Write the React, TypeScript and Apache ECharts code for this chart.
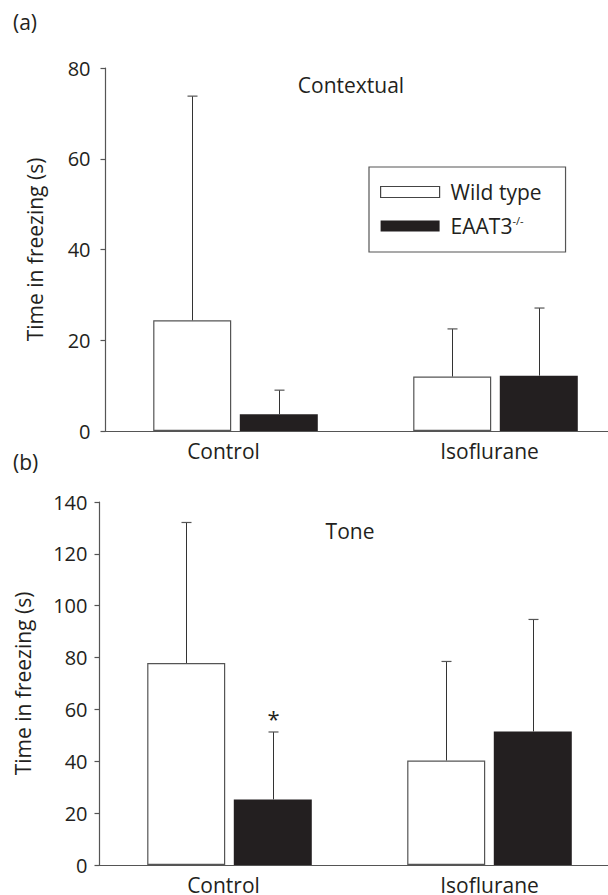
import React, { useEffect, useRef } from "react";
import * as echarts from "echarts";

const categories = ["Control", "Isoflurane"];
const seriesNames = ["Wild type", "EAAT3"];

// Panel (a) Contextual
const ctxWildMean = [24.4, 12.0];
const ctxWildUpper = [73.8, 22.5];
const ctxKoMean = [3.7, 12.2];
const ctxKoUpper = [9.0, 27.1];

// Panel (b) Tone
const toneWildMean = [77.9, 40.3];
const toneWildUpper = [132.1, 78.5];
const toneKoMean = [25.3, 51.5];
const toneKoUpper = [51.3, 94.7];
const toneKoSig = [true, false];

const ctxTicks = { min: 0, max: 80, interval: 20 };
const toneTicks = { min: 0, max: 140, interval: 20 };

const FONT = "'Open Sans', 'Noto Sans', sans-serif";
const INK = "#231f20";
const AXIS = "#555";
const BAR_W = 78;
const BAR_GAP_PCT = 11;
const CANVAS_W = 640;

function errData(wm: number[], wu: number[], km: number[], ku: number[], sig?: boolean[]) {
  const out: any[] = [];
  categories.forEach((_, i) => {
    out.push([i, wm[i], wu[i], 0, 0]);
    out.push([i, km[i], ku[i], 1, sig && sig[i] ? 1 : 0]);
  });
  return out;
}

function renderErr(params: any, api: any) {
  const cat = api.value(0);
  const mean = api.value(1);
  const up = api.value(2);
  const grp = api.value(3);
  const sig = api.value(4);
  const off = ((BAR_W + (BAR_W * BAR_GAP_PCT) / 100) / 2) * (grp === 0 ? -1 : 1);
  const p0 = api.coord([cat, mean]);
  const p1 = api.coord([cat, up]);
  const x = Math.round(p0[0] + off) + 0.5;
  const children: any[] = [
    { type: "line", shape: { x1: x, y1: p0[1], x2: x, y2: p1[1] }, style: { stroke: "#333", lineWidth: 1 } },
    { type: "line", shape: { x1: x - 5, y1: p1[1], x2: x + 5, y2: p1[1] }, style: { stroke: "#555", lineWidth: 1.2 } },
  ];
  if (sig) {
    children.push({
      type: "text",
      x: x,
      y: p1[1] - 14,
      style: { text: "*", font: `22px ${FONT}`, fill: INK, align: "center", verticalAlign: "middle" },
    });
  }
  return { type: "group", children };
}

function labelFmt(v: string) {
  return v === "Control" ? "{c|Control}" : "{i|Isoflurane}";
}

export default function App() {
  const ref = useRef<HTMLDivElement>(null);
  useEffect(() => {
    if (!ref.current) return;
    document.body.style.margin = "0";
    const chart = echarts.init(ref.current, undefined, { renderer: "svg" });
    const axisLabelBase = { color: INK, fontFamily: FONT, fontSize: 20 };
    const xAxisCommon = (gi: number, cShift: number, iShift: number) => ({
      type: "category",
      gridIndex: gi,
      data: categories,
      axisLine: { lineStyle: { color: AXIS, width: 1.2 } },
      axisTick: { show: false },
      axisLabel: {
        ...axisLabelBase,
        fontSize: 21,
        margin: 9,
        formatter: labelFmt,
        rich: {
          c: { color: INK, fontFamily: FONT, fontSize: 21, padding: [0, cShift, 0, 0] },
          i: { color: INK, fontFamily: FONT, fontSize: 21, padding: [0, iShift, 0, 0] },
        },
      },
    });
    const yAxisCommon = (gi: number, t: any, gap: number, margin: number) => ({
      type: "value",
      gridIndex: gi,
      ...t,
      name: "Time in freezing (s)",
      nameLocation: "middle",
      nameGap: gap,
      nameTextStyle: { color: INK, fontFamily: FONT, fontSize: 21 },
      axisLine: { show: true, lineStyle: { color: AXIS, width: 1.2 } },
      axisTick: { show: true, length: 5, lineStyle: { color: AXIS, width: 1.2 } },
      axisLabel: { ...axisLabelBase, margin },
      splitLine: { show: false },
    });
    const wildStyle = { color: "#ffffff", borderColor: "#555", borderWidth: 1.2 };
    const koStyle = { color: INK, borderColor: INK, borderWidth: 0 };
    chart.setOption({
      animation: false,
      backgroundColor: "#ffffff",
      textStyle: { fontFamily: FONT },
      grid: [
        { left: 105.5, top: 68, height: 363, width: 520 },
        { left: 99.5, top: 502, height: 363, width: 520 },
      ],
      xAxis: [xAxisCommon(0, 24, 12), xAxisCommon(1, 12, 0)],
      yAxis: [yAxisCommon(0, ctxTicks, 60, 15), yAxisCommon(1, toneTicks, 66, 12)],
      legend: {
        left: 369,
        top: 167,
        orient: "vertical",
        borderColor: "#555",
        borderWidth: 1.2,
        padding: [14, 24, 15, 11],
        itemGap: 12,
        itemWidth: 59,
        itemHeight: 11,
        icon: "rect",
        selectedMode: false,
        textStyle: {
          color: INK,
          fontFamily: FONT,
          fontSize: 21,
          lineHeight: 22,
          padding: [0, 0, 0, 6],
          rich: {
            sup: { color: INK, fontFamily: FONT, fontSize: 11, lineHeight: 11, verticalAlign: "top" },
          },
        },
        formatter: (n: string) => (n === "EAAT3" ? "EAAT3{sup|-/-}" : n),
        data: [
          { name: seriesNames[0], itemStyle: { color: "#fff", borderColor: "#444", borderWidth: 1.2 } },
          { name: seriesNames[1], itemStyle: { color: INK, borderWidth: 0 } },
        ],
      },
      graphic: [
        { type: "text", x: 13, y: 22, style: { text: "(a)", font: `21px ${FONT}`, fill: INK, verticalAlign: "middle" } },
        { type: "text", x: 13, y: 462, style: { text: "(b)", font: `21px ${FONT}`, fill: INK, verticalAlign: "middle" } },
        { type: "text", x: 351, y: 85, style: { text: "Contextual", font: `21px ${FONT}`, fill: INK, align: "center", verticalAlign: "middle" } },
        { type: "text", x: 350, y: 531, style: { text: "Tone", font: `21px ${FONT}`, fill: INK, align: "center", verticalAlign: "middle" } },
      ],
      series: [
        { type: "bar", name: seriesNames[0], xAxisIndex: 0, yAxisIndex: 0, data: ctxWildMean, barWidth: BAR_W, barGap: BAR_GAP_PCT + "%", itemStyle: wildStyle },
        { type: "bar", name: seriesNames[1], xAxisIndex: 0, yAxisIndex: 0, data: ctxKoMean, barWidth: BAR_W, barGap: BAR_GAP_PCT + "%", itemStyle: koStyle },
        { type: "custom", xAxisIndex: 0, yAxisIndex: 0, data: errData(ctxWildMean, ctxWildUpper, ctxKoMean, ctxKoUpper), renderItem: renderErr, z: 3 },
        { type: "bar", name: seriesNames[0], xAxisIndex: 1, yAxisIndex: 1, data: toneWildMean, barWidth: BAR_W, barGap: BAR_GAP_PCT + "%", itemStyle: wildStyle },
        { type: "bar", name: seriesNames[1], xAxisIndex: 1, yAxisIndex: 1, data: toneKoMean, barWidth: BAR_W, barGap: BAR_GAP_PCT + "%", itemStyle: koStyle },
        { type: "custom", xAxisIndex: 1, yAxisIndex: 1, data: errData(toneWildMean, toneWildUpper, toneKoMean, toneKoUpper, toneKoSig), renderItem: renderErr, z: 3 },
      ],
    });
    return () => chart.dispose();
  }, []);
  return (
    <div style={{ position: "fixed", left: 0, top: 0, width: 608, height: 895, overflow: "hidden", background: "#fff" }}>
      <div ref={ref} style={{ width: CANVAS_W, height: 895 }} />
    </div>
  );
}
